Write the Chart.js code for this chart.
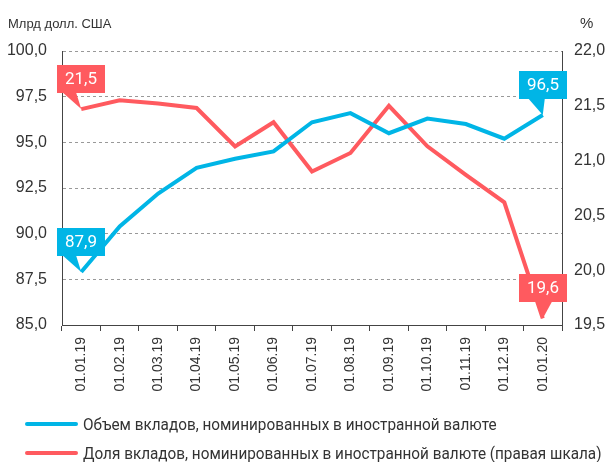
<!DOCTYPE html>
<html lang="ru">
<head>
<meta charset="UTF-8">
<script src="https://cdn.jsdelivr.net/npm/chart.js"></script>
<title>Вклады в иностранной валюте</title>
<style>
    body { margin: 0; background: #fff; }
    .wrap { position: relative; width: 615px; height: 462px; }
    .legend { position: absolute; left: 25px; font-family: Roboto, 'Liberation Sans', sans-serif; font-size: 17px; color: #333; white-space: nowrap; }
    .legend span.line { display: inline-block; width: 53px; height: 4px; border-radius: 2px; vertical-align: middle; margin-right: 5px; }
    .legend span.txt { display: inline-block; transform: scaleX(0.9); transform-origin: left center; vertical-align: middle; }
</style>
</head>
<body>
<div class="wrap">
    <canvas id="chart" width="615" height="462"></canvas>
    <div class="legend" style="top: 412px;"><span class="line" style="background:#00B5E6"></span><span class="txt">Объем вкладов, номинированных в иностранной валюте</span></div>
    <div class="legend" style="top: 441px;"><span class="line" style="background:#FF5A5F"></span><span class="txt">Доля вкладов, номинированных в иностранной валюте (правая шкала)</span></div>
</div>
<script>
    const labels = ['01.01.19', '01.02.19', '01.03.19', '01.04.19', '01.05.19', '01.06.19', '01.07.19',
                    '01.08.19', '01.09.19', '01.10.19', '01.11.19', '01.12.19', '01.01.20'];
    // млрд долл. США
    const deposits = [87.9, 90.4, 92.2, 93.6, 94.1, 94.5, 96.1, 96.6, 95.5, 96.3, 96.0, 95.2, 96.5];
    // %, правая шкала
    const share = [21.47, 21.55, 21.52, 21.48, 21.13, 21.35, 20.90, 21.07, 21.50, 21.13, 20.87, 20.62, 19.56];

    const BLUE = '#00B5E6';
    const RED = '#FF5A5F';
    const fmt = v => v.toFixed(1).replace('.', ',');

    // value boxes at first and last point
    const callouts = [
        { ds: 0, idx: 0, tail: [-18, -5] },
        { ds: 1, idx: 0, tail: [-18, -5] },
        { ds: 0, idx: 12, tail: [-14, 2] },
        { ds: 1, idx: 12, tail: [-6, 9] }
    ];

    const extras = {
        id: 'extras',
        afterDraw(chart) {
            const c = chart.ctx;
            c.save();
            c.fillStyle = '#333';
            c.textBaseline = 'middle';
            c.textAlign = 'left';
            c.font = '13px "Liberation Sans", Arial, sans-serif';
            c.fillText('Млрд долл. США', 8, 24);
            c.font = '15px "Liberation Sans", Arial, sans-serif';
            c.fillText('%', 580, 24);

            callouts.forEach(co => {
                const meta = chart.getDatasetMeta(co.ds);
                const pt = meta.data[co.idx];
                const x = pt.x, y = pt.y;
                const color = chart.data.datasets[co.ds].borderColor;
                const w = 48, h = 28;
                const bx = Math.round(x - w / 2), by = Math.round(y - 16 - h);
                c.fillStyle = color;
                c.fillRect(bx, by, w, h);
                c.beginPath();
                c.moveTo(x + co.tail[0], by + h);
                c.lineTo(x + co.tail[1], by + h);
                c.lineTo(x, y);
                c.closePath();
                c.fill();
                c.fillStyle = '#fff';
                c.textAlign = 'center';
                c.font = '17px Roboto, sans-serif';
                c.fillText(fmt(chart.data.datasets[co.ds].data[co.idx]), bx + w / 2, by + h / 2 + 1);
            });
            c.restore();
        }
    };

    const ctx = document.getElementById('chart').getContext('2d');
    new Chart(ctx, {
        type: 'line',
        data: {
            labels: labels,
            datasets: [
                { label: 'Объем вкладов', data: deposits, yAxisID: 'y', borderColor: BLUE, backgroundColor: BLUE,
                  borderWidth: 4, pointRadius: 0, tension: 0 },
                { label: 'Доля вкладов', data: share, yAxisID: 'y1', borderColor: RED, backgroundColor: RED,
                  borderWidth: 4, pointRadius: 0, tension: 0 }
            ]
        },
        options: {
            responsive: false,
            animation: false,
            layout: { padding: { top: 51, left: 0, right: 0, bottom: 0 } },
            plugins: { legend: { display: false }, tooltip: { enabled: false } },
            scales: {
                x: {
                    offset: true,
                    grid: { display: true, drawOnChartArea: false, drawTicks: true, tickLength: 6, color: '#444', offset: true },
                    border: { display: true, color: '#444', width: 1 },
                    ticks: { minRotation: 90, maxRotation: 90, padding: 6, color: '#333',
                             font: { family: '"Liberation Sans", Arial, sans-serif', size: 14 } },
                    afterFit: s => { s.height = 462 - 325; }
                },
                y: {
                    position: 'left',
                    min: 85, max: 100,
                    ticks: { stepSize: 2.5, padding: 15, color: '#333', callback: v => fmt(v),
                             font: { family: '"Liberation Sans", Arial, sans-serif', size: 16 } },
                    grid: { drawTicks: false, color: ctx => ctx.tick && ctx.tick.value === 85 ? 'rgba(0,0,0,0)' : '#999' },
                    border: { display: true, color: '#444', width: 1, dash: [3, 3] },
                    afterFit: s => { s.width = 62; }
                },
                y1: {
                    position: 'right',
                    min: 19.5, max: 22,
                    ticks: { stepSize: 0.5, padding: 12, color: '#333', callback: v => fmt(v),
                             font: { family: '"Liberation Sans", Arial, sans-serif', size: 16 } },
                    grid: { display: false, drawTicks: false },
                    border: { display: true, color: '#444', width: 1 },
                    afterFit: s => { s.width = 53; }
                }
            }
        },
        plugins: [extras]
    });
</script>
</body>
</html>
